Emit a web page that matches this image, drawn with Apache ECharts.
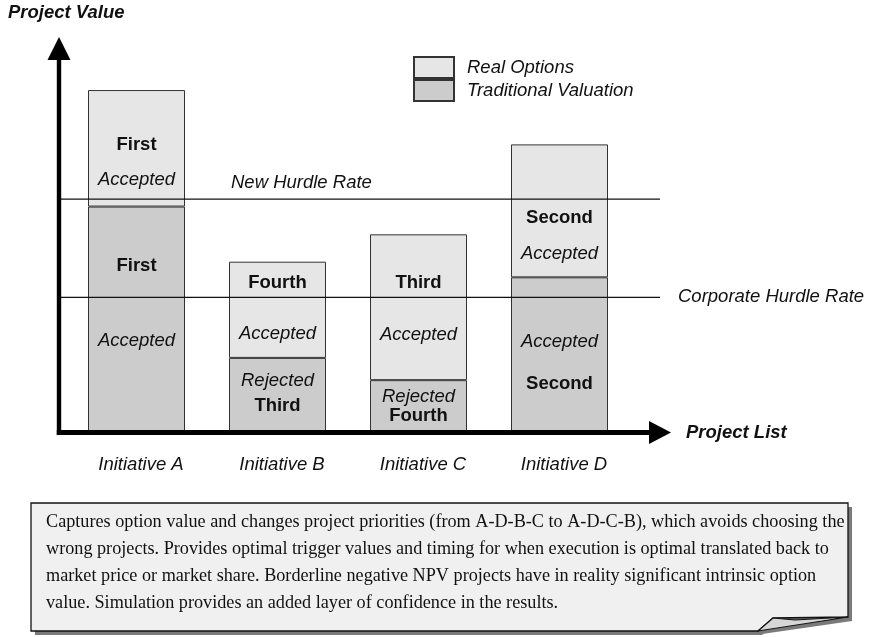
<!DOCTYPE html>
<html>
<head>
<meta charset="utf-8">
<script src="https://cdn.jsdelivr.net/npm/echarts@6/dist/echarts.min.js"></script>
<style>
html,body{margin:0;padding:0;background:#fff;}
#chart{width:874px;height:637px;}
</style>
</head>
<body>
<div id="chart"></div>
<script>
// ---- data ----
var categories = ['Initiative A', 'Initiative B', 'Initiative C', 'Initiative D'];
var traditionalValue = [57.4, 18.7, 13.0, 39.3];
var realOptionsValue = [29.8, 24.6, 37.3, 34.0];
var newHurdleRate = 59.3;
var corporateHurdleRate = 34.2;
var realLabels = [['First', 'Accepted'], ['Fourth', 'Accepted'], ['Third', 'Accepted'], ['Second', 'Accepted']];
var tradLabels = [['First', 'Accepted'], ['Rejected', 'Third'], ['Rejected', 'Fourth'], ['Accepted', 'Second']];
var noteLines = [
  'Captures option value and changes project priorities (from A-D-B-C to A-D-C-B), which avoids choosing the',
  'wrong projects. Provides optimal trigger values and timing for when execution is optimal translated back to',
  'market price or market share. Borderline negative NPV projects have in reality significant intrinsic option',
  'value. Simulation provides an added layer of confidence in the results.'
];

// ---- layout (label spacing / offsets, px) ----
var realGap = [35, 51, 52, 36], realOff = [14, -1, 2, 25];
var tradGap = [75, 25, 19, 42], tradOff = [-15, -1, 1, 9];

var SANS = '"Liberation Sans", Arial, Helvetica, sans-serif';
var FS = 18.5;

function isRank(w) { return /First|Second|Third|Fourth/.test(w); }
function makeLabel(words, gap, off) {
  var fmt = words.map(function (w) { return '{' + (isRank(w) ? 'b' : 'i') + '|' + w + '}'; }).join('\n');
  return {
    show: true, position: 'inside', offset: [0, off],
    formatter: fmt,
    rich: {
      b: { fontFamily: SANS, fontSize: FS, fontWeight: 'bold', color: '#111', lineHeight: gap },
      i: { fontFamily: SANS, fontSize: FS, fontStyle: 'italic', color: '#111', lineHeight: gap }
    }
  };
}

var tradData = traditionalValue.map(function (v, i) { return { value: v, label: makeLabel(tradLabels[i], tradGap[i], tradOff[i]) }; });
var realData = realOptionsValue.map(function (v, i) { return { value: v, label: makeLabel(realLabels[i], realGap[i], realOff[i]) }; });

var chart = echarts.init(document.getElementById('chart'), null, { renderer: 'canvas' });

chart.setOption({
  animation: false,
  backgroundColor: '#fff',
  grid: { left: 66, width: 564, top: 40, bottom: 206, containLabel: false },
  legend: {
    data: ['Real Options', 'Traditional Valuation'],
    orient: 'vertical', left: 408, top: 51,
    itemWidth: 40, itemHeight: 21, itemGap: 0, icon: 'rect',
    selectedMode: false,
    textStyle: { fontFamily: SANS, fontSize: FS, fontStyle: 'italic', color: '#111', lineHeight: 21, padding: [0, 0, 0, 8] }
  },
  xAxis: {
    type: 'category', data: categories,
    axisLine: { show: false }, axisTick: { show: false }, splitLine: { show: false },
    axisLabel: { margin: 24, fontFamily: SANS, fontSize: FS, fontStyle: 'italic', color: '#111', padding: [0, 0, 0, 9] }
  },
  yAxis: { type: 'value', min: 0, max: 100, show: false, splitLine: { show: false } },
  series: [
    {
      name: 'Traditional Valuation', type: 'bar', stack: 'v', barWidth: 97,
      itemStyle: { color: '#cccccc', borderColor: '#333', borderWidth: 1 },
      data: tradData
    },
    {
      name: 'Real Options', type: 'bar', stack: 'v', barWidth: 97,
      itemStyle: { color: '#e6e6e6', borderColor: '#333', borderWidth: 1 },
      data: realData
    }
  ]
});

var y0 = chart.convertToPixel({ yAxisIndex: 0 }, 0);
var yNew = chart.convertToPixel({ yAxisIndex: 0 }, newHurdleRate);
var yCorp = chart.convertToPixel({ yAxisIndex: 0 }, corporateHurdleRate);

var graphics = [];
// hurdle lines
graphics.push({ type: 'line', z: 50, shape: { x1: 60, y1: yNew, x2: 660, y2: yNew }, style: { stroke: '#111', lineWidth: 1.2 } });
graphics.push({ type: 'line', z: 50, shape: { x1: 60, y1: yCorp, x2: 660, y2: yCorp }, style: { stroke: '#111', lineWidth: 1.2 } });
graphics.push({ type: 'text', z: 50, x: 231, y: yNew - 16, style: { text: 'New Hurdle Rate', fontFamily: SANS, fontSize: FS, fontStyle: 'italic', fill: '#111', verticalAlign: 'middle' } });
graphics.push({ type: 'text', z: 50, x: 678, y: yCorp, style: { text: 'Corporate Hurdle Rate', fontFamily: SANS, fontSize: FS, fontStyle: 'italic', fill: '#111', verticalAlign: 'middle' } });
// axes
graphics.push({ type: 'rect', z: 60, shape: { x: 56.8, y: 58, width: 4.4, height: y0 + 4 - 58 }, style: { fill: '#000' } });
graphics.push({ type: 'polygon', z: 60, shape: { points: [[59, 37], [47.5, 60], [70.5, 60]] }, style: { fill: '#000' } });
graphics.push({ type: 'rect', z: 60, shape: { x: 56.8, y: y0 - 1, width: 594, height: 5 }, style: { fill: '#000' } });
graphics.push({ type: 'polygon', z: 60, shape: { points: [[671, y0 + 1.5], [649, y0 - 10], [649, y0 + 13]] }, style: { fill: '#000' } });
// axis titles
graphics.push({ type: 'text', z: 60, x: 8, y: 13, style: { text: 'Project Value', fontFamily: SANS, fontSize: FS, fontWeight: 'bold', fontStyle: 'italic', fill: '#111', verticalAlign: 'middle' } });
graphics.push({ type: 'text', z: 60, x: 686, y: y0 + 2, style: { text: 'Project List', fontFamily: SANS, fontSize: FS, fontWeight: 'bold', fontStyle: 'italic', fill: '#111', verticalAlign: 'middle' } });
// note box
var bx = 31, by = 503, bw = 817, bh = 128;
var mainPts = [[bx, by], [bx + bw, by], [bx + bw, 617], [773, 618], [758, by + bh], [bx, by + bh]];
graphics.push({ type: 'polygon', z: 5, shape: { points: mainPts.map(function (p) { return [p[0] + 4, p[1] + 4]; }) }, style: { fill: '#7a7a7a' } });
graphics.push({ type: 'polygon', z: 6, shape: { points: [[bx + bw, 617], [bx + bw + 4, 621], [762, by + bh + 3], [758, by + bh]] }, style: { fill: '#7a7a7a' } });
graphics.push({ type: 'polygon', z: 7, shape: { points: mainPts }, style: { fill: '#f0f0f0', stroke: '#111', lineWidth: 1.3 } });
graphics.push({ type: 'polygon', z: 8, shape: { points: [[773, 618], [795, 620], [bx + bw, 617], [758, by + bh]] }, style: { fill: '#d6d6d6', stroke: '#111', lineWidth: 1.1 } });
noteLines.forEach(function (t, i) {
  graphics.push({ type: 'text', z: 9, x: 46, y: 522.5 + i * 27, style: { text: t, fontFamily: '"Liberation Serif", "Times New Roman", serif', fontSize: 18.2, fill: '#111', verticalAlign: 'middle' } });
});

chart.setOption({ graphic: graphics });
</script>
</body>
</html>
